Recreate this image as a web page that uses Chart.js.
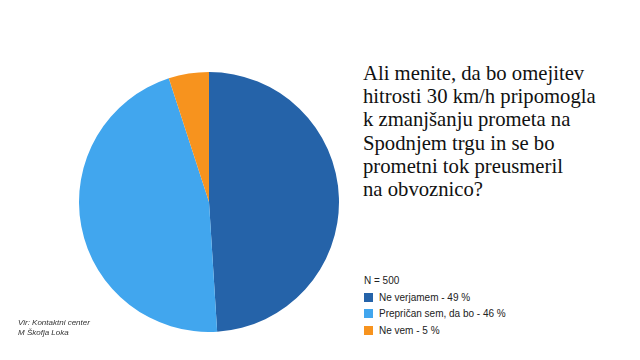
<!DOCTYPE html>
<html lang="sl">
<head>
  <meta charset="UTF-8">
  <title>Omejitev hitrosti 30 km/h</title>
  <script src="https://cdn.jsdelivr.net/npm/chart.js"></script>
  <style>
    body { margin: 0; width: 640px; height: 360px; background: #fff; position: relative; overflow: hidden; }
    #pieBox { position: absolute; left: 79px; top: 72px; width: 260px; height: 260px; }
    #title { position: absolute; left: 363px; top: 62px; font-family: "Liberation Serif", serif; font-size: 20.7px; line-height: 23.2px; color: #111; }
    #legend { position: absolute; left: 364px; top: 272px; font-family: "Liberation Sans", Arial, sans-serif; font-size: 10px; color: #222; }
    #legend .row { height: 16.8px; display: flex; align-items: center; }
    #legend .box { width: 9px; height: 9px; margin-right: 6px; }
    #source { position: absolute; left: 18px; top: 318px; font-family: "Liberation Sans", Arial, sans-serif; font-style: italic; font-size: 8px; line-height: 9.5px; color: #333; }
  </style>
</head>
<body>
  <div id="pieBox"><canvas id="pieChart"></canvas></div>
  <div id="title"></div>
  <div id="legend"></div>
  <div id="source">Vir: Kontaktni center<br>M Škofja Loka</div>

  <script>
    const labels = ['Ne verjamem', 'Prepričan sem, da bo', 'Ne vem']
    const values = [49, 46, 5]
    const colors = ['#2563a9', '#41a6ee', '#f7931e']
    const sampleSize = 'N = 500'
    const titleLines = [
      'Ali menite, da bo omejitev',
      'hitrosti 30 km/h pripomogla',
      'k zmanjšanju prometa na',
      'Spodnjem trgu in se bo',
      'prometni tok preusmeril',
      'na obvoznico?'
    ]

    document.getElementById('title').innerHTML = titleLines.join('<br>')

    // legend built from the same arrays
    const legend = document.getElementById('legend')
    let html = `<div class="row">${sampleSize}</div>`
    labels.forEach((label, i) => {
      html += `<div class="row"><span class="box" style="background:${colors[i]}"></span>${label} - ${values[i]} %</div>`
    })
    legend.innerHTML = html

    new Chart(document.getElementById('pieChart'), {
      type: 'pie',
      data: {
        labels: labels,
        datasets: [{
          data: values,
          backgroundColor: colors,
          borderWidth: 0
        }]
      },
      options: {
        responsive: true,
        maintainAspectRatio: false,
        animation: false,
        layout: { padding: 0 },
        plugins: {
          legend: { display: false },
          tooltip: { enabled: false }
        }
      }
    })
  </script>
</body>
</html>
